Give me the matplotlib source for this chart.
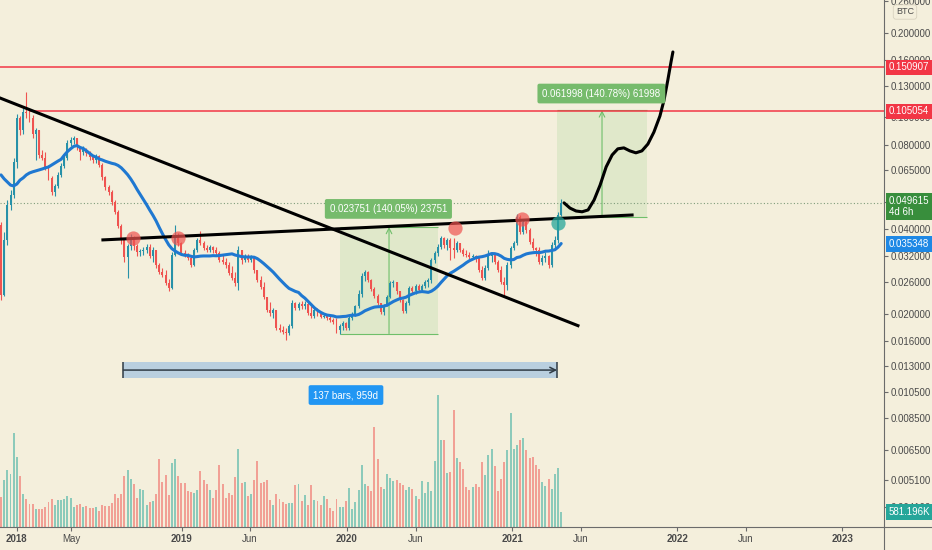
import numpy as np
import matplotlib
matplotlib.use("Agg")
import matplotlib.pyplot as plt
from matplotlib import font_manager
from matplotlib.lines import Line2D
from matplotlib.patches import Rectangle
from matplotlib.ticker import FixedLocator, NullLocator, FuncFormatter
from matplotlib.transforms import blended_transform_factory

# narrow font like the TradingView axis, if available
names = {f.name for f in font_manager.fontManager.ttflist}
if "Liberation Sans Narrow" in names:
    plt.rcParams["font.family"] = ["Liberation Sans Narrow", "DejaVu Sans"]
else:
    plt.rcParams["font.family"] = ["Liberation Sans", "DejaVu Sans"]

# ---- data (weekly candles, prices in mBTC, volume in K) ----
week0 = np.datetime64("2017-11-27")
open_first = 41.4

close_mbtc = [
    23.3, 36.6, 48.7, 52.9, 69.4, 99.6, 90.2, 104.6, 103.7, 99.6,
    87.3, 90.2, 73.5, 71.7, 66.1, 60.9, 54.2, 57.0, 62.4, 67.2,
    71.7, 81.1, 83.1, 84.5, 78.5, 75.4, 77.3, 74.8, 72.3, 70.5,
    72.9, 67.7, 61.4, 56.5, 54.2, 50.0, 46.1, 41.1, 36.6, 31.8,
    34.8, 37.2, 34.8, 33.2, 33.4, 33.7, 34.5, 32.0, 33.7, 29.8,
    28.1, 27.4, 25.7, 24.7, 32.3, 37.2, 35.7, 32.9, 32.3, 31.5,
    29.8, 33.7, 36.6, 35.7, 34.3, 33.7, 34.5, 33.7, 32.9, 31.0,
    30.5, 29.8, 27.9, 26.8, 25.7, 33.7, 31.0, 32.0, 31.0, 31.8,
    28.6, 26.3, 24.9, 22.9, 20.6, 20.1, 20.6, 17.8, 17.5, 17.2,
    17.1, 18.1, 21.8, 20.9, 21.7, 21.3, 21.7, 20.1, 19.6, 20.6,
    19.9, 19.5, 19.6, 19.3, 19.0, 18.7, 17.5, 18.1, 18.5, 17.8,
    19.3, 19.9, 21.2, 23.5, 27.2, 28.1, 26.3, 24.5, 23.1, 21.8,
    20.3, 21.3, 22.9, 25.7, 25.9, 24.0, 22.4, 20.4, 21.8, 24.7,
    24.0, 25.1, 24.3, 25.1, 25.9, 26.3, 31.0, 32.9, 34.5, 37.2,
    35.1, 36.6, 34.3, 33.7, 35.7, 33.7, 32.6, 32.3, 31.8, 32.0,
    31.8, 28.6, 26.8, 29.1, 32.0, 32.6, 30.5, 28.6, 25.9, 25.3,
    29.8, 34.3, 35.7, 44.2, 39.1, 42.4, 39.7, 36.0, 34.3, 33.7,
    30.5, 31.5, 32.0, 29.8, 35.1, 36.6, 44.9, 49.615,
]
high_mbtc = [
    42.4, 39.1, 50.8, 55.1, 71.7, 102.9, 101.2, 108.1, 123.3, 106.3,
    102.0, 91.7, 90.2, 76.6, 75.4, 67.7, 61.9, 57.9, 64.0, 68.8,
    73.5, 83.1, 85.2, 85.9, 84.5, 79.2, 79.2, 77.9, 76.0, 73.5,
    74.2, 73.5, 68.8, 61.9, 57.4, 55.1, 50.8, 46.8, 41.7, 37.2,
    35.4, 38.4, 37.8, 35.4, 34.0, 34.5, 35.4, 35.4, 34.5, 33.7,
    30.3, 29.1, 28.6, 26.5, 33.2, 41.4, 38.7, 36.0, 33.7, 32.9,
    32.3, 34.3, 37.2, 39.4, 36.3, 35.1, 35.1, 34.8, 34.5, 33.4,
    32.3, 31.5, 30.5, 29.6, 28.1, 34.8, 33.7, 32.6, 32.6, 32.3,
    32.0, 28.6, 27.2, 25.9, 22.9, 22.0, 20.9, 20.6, 18.3, 18.1,
    17.8, 18.4, 22.4, 22.0, 22.0, 22.2, 22.2, 22.0, 21.3, 20.9,
    20.9, 20.3, 19.9, 19.9, 19.8, 19.3, 19.3, 18.4, 18.8, 18.7,
    19.6, 20.3, 21.5, 24.3, 27.9, 28.6, 28.4, 26.5, 24.9, 23.5,
    21.8, 21.7, 23.3, 26.1, 26.3, 25.9, 24.1, 22.6, 22.2, 25.1,
    25.1, 25.5, 25.5, 25.5, 26.3, 26.7, 31.5, 33.4, 35.4, 37.8,
    37.5, 37.2, 37.2, 37.2, 36.3, 35.7, 34.3, 33.7, 33.2, 32.6,
    32.3, 32.0, 29.6, 29.8, 33.7, 33.2, 32.9, 31.0, 29.6, 27.0,
    30.5, 34.8, 36.3, 45.3, 44.9, 43.1, 42.8, 40.4, 37.2, 34.5,
    34.5, 32.3, 33.2, 32.3, 36.0, 37.8, 46.1, 51.2,
]
low_mbtc = [
    22.4, 23.1, 35.1, 46.8, 51.6, 66.1, 86.6, 87.3, 99.6, 96.3,
    84.5, 70.5, 71.7, 70.5, 65.0, 59.8, 52.9, 52.5, 56.0, 61.4,
    66.1, 70.5, 79.2, 80.4, 76.6, 70.5, 73.5, 72.9, 70.5, 68.8,
    68.8, 66.6, 59.8, 55.1, 52.9, 48.7, 45.3, 40.4, 35.4, 30.5,
    26.7, 33.7, 33.7, 32.0, 32.0, 32.3, 32.9, 31.5, 30.5, 29.1,
    27.7, 27.0, 25.3, 24.1, 24.5, 32.0, 34.8, 32.3, 31.8, 31.0,
    29.3, 29.6, 33.2, 35.1, 33.7, 33.2, 33.2, 32.9, 32.3, 30.5,
    30.0, 29.1, 27.4, 26.3, 25.1, 24.3, 30.0, 30.5, 30.5, 30.5,
    27.9, 25.9, 24.5, 22.6, 20.3, 19.6, 19.3, 17.5, 17.2, 16.9,
    16.1, 16.8, 17.8, 20.6, 20.6, 20.8, 20.8, 19.8, 19.2, 19.3,
    19.6, 19.2, 19.2, 19.0, 18.7, 18.4, 17.1, 16.9, 17.5, 17.4,
    17.5, 19.0, 19.6, 20.9, 22.9, 26.1, 25.9, 24.1, 22.7, 21.5,
    19.9, 19.8, 21.2, 22.7, 24.9, 23.5, 22.0, 20.1, 20.1, 21.5,
    23.5, 23.5, 24.0, 24.0, 24.7, 24.9, 25.7, 30.3, 32.0, 34.0,
    34.3, 33.7, 31.0, 31.5, 33.2, 33.2, 32.0, 31.8, 31.3, 31.3,
    30.5, 28.1, 26.3, 26.3, 28.6, 30.5, 30.0, 28.1, 25.5, 22.9,
    24.3, 29.1, 33.7, 35.1, 38.4, 38.4, 38.7, 35.4, 33.7, 32.0,
    30.0, 29.8, 30.5, 29.1, 29.3, 34.3, 35.7, 44.5,
]
volume_k = [
    1162, 1808, 2221, 2066, 3642, 2712, 1963, 1266, 1098, 878,
    904, 710, 710, 684, 775, 969, 1072, 839, 1033, 1059,
    1098, 1188, 1137, 775, 839, 878, 775, 827, 736, 736,
    775, 620, 839, 827, 801, 943, 1292, 1137, 1292, 1963,
    2221, 1847, 1653, 1137, 1485, 1421, 839, 969, 994, 1266,
    2635, 1744, 2002, 1227, 2480, 2635, 1963, 1705, 1705, 1395,
    1369, 1317, 1421, 2170, 1808, 1679, 1421, 1137, 1446, 2415,
    1679, 1111, 1330, 1227, 1937, 3035, 1705, 1744, 1188, 1292,
    1834, 2544, 1718, 1744, 1834, 1033, 839, 1266, 1072, 969,
    878, 943, 930, 1614, 1679, 1007, 1227, 865, 1614, 1033,
    994, 839, 1188, 1072, 749, 620, 1098, 775, 775, 1007,
    1511, 697, 969, 1446, 2415, 1679, 1576, 1395, 3875, 2635,
    1550, 1485, 2066, 1911, 1782, 1808, 1705, 1614, 1421, 1550,
    1485, 1188, 1072, 1769, 1330, 1744, 1395, 2544, 5101, 3384,
    3358, 2092, 2118, 4520, 2686, 2518, 2260, 1550, 1421, 1550,
    1653, 1550, 2518, 2002, 2777, 3009, 2351, 1395, 1847, 2518,
    2996, 4417, 3035, 3164, 3384, 3448, 2996, 2686, 2712, 2389,
    2260, 1744, 1576, 1847, 1485, 2041, 2286, 581.196,
]
ma_head_mbtc = [62.4, 60.4, 58.9, 57.4, 57.0, 57.9, 59.8, 60.9, 62.4, 63.4,
                64.0, 64.5, 65.0, 65.5, 66.1, 66.6, 67.7, 68.8, 69.9]
ma_len = 20

# drawings (week index, mBTC)
desc_line = ([-0.3, 182.3], [117.3, 18.1])
neck_line = ([32.2, 199.4], [36.6, 44.9])
proj_weeks = [177.9, 179.8, 181.7, 183.6, 185.5, 187.4, 189.3, 191.2, 193.1, 194.9,
              196.8, 198.7, 200.6, 202.5, 204.4, 206.3, 208.2, 209.5, 210.7, 211.7, 212.3]
proj_mbtc = [49.6, 47.5, 46.4, 46.1, 46.8, 50.8, 57.4, 66.6, 73.5, 77.3,
             77.9, 76.0, 74.8, 76.0, 80.4, 88.7, 101.2, 115.4, 136.0, 157.7, 171.2]
red_weeks = [41.7, 55.9, 143.4, 164.6]
red_mbtc = [37.2, 37.2, 40.4, 43.5]
teal_week, teal_mbtc = 176.0, 41.9
level_hi, level_lo = 0.150907, 0.105054
last_price, ma_last, last_vol = 0.049615, 0.035348, 581.196
range1 = dict(w0=107.1, w1=138.1, lo=0.016959, hi=0.040710, arrow=122.6,
              label="0.023751 (140.05%) 23751", lx=122.4, ly=0.0472)
range2 = dict(w0=175.7, w1=204.1, lo=0.044039, hi=0.106037, arrow=189.9,
              label="0.061998 (140.78%) 61998", lx=189.7, ly=0.1217)
bars_span = (38.7, 175.7)

tick_dates = ["2018-01-01", "2018-05-01", "2019-01-01", "2019-06-01", "2020-01-01",
              "2020-06-01", "2021-01-01", "2021-06-01", "2022-01-01", "2022-06-01", "2023-01-01"]
tick_labels = ["2018", "May", "2019", "Jun", "2020", "Jun", "2021", "Jun", "2022", "Jun", "2023"]
price_ticks = [0.26, 0.2, 0.16, 0.13, 0.1, 0.08, 0.065, 0.05, 0.04, 0.032, 0.026,
               0.02, 0.016, 0.013, 0.0105, 0.0085, 0.0065, 0.0051, 0.0041]

# ---- colours ----
BG = "#f4efdc"
UP = "#2791a8"
DOWN = "#ef5350"
AXIS = "#6b6b6b"
TXT = "#4a4a4a"
RED = "#f23645"

close = np.array(close_mbtc) / 1000
high = np.array(high_mbtc) / 1000
low = np.array(low_mbtc) / 1000
opn = np.concatenate([[open_first / 1000], close[:-1]])
weeks = np.arange(len(close))
up = close >= opn

ma = np.empty(len(close))
ma[:ma_len - 1] = np.array(ma_head_mbtc) / 1000
for i in range(ma_len - 1, len(close)):
    ma[i] = close[i - ma_len + 1:i + 1].mean()

fig = plt.figure(figsize=(9.32, 5.5), dpi=100)
fig.patch.set_facecolor(BG)
rect = [0, 23 / 550, 884 / 932, 527 / 550]

# volume pane underneath
ax_v = fig.add_axes(rect)
ax_v.set_facecolor(BG)
ax_v.bar(weeks, volume_k, width=0.62, color=np.where(up, "#26a69a", "#ef5350"),
         alpha=0.5, linewidth=0)
ax_v.set_ylim(0, max(volume_k) * 4)
ax_v.axis("off")

ax = fig.add_axes(rect, sharex=ax_v)
ax.patch.set_alpha(0)
ax.set_yscale("log")
ax.set_xlim(-0.32, 279.0)
ax.set_ylim(0.003466, 0.2623)

# price range boxes
for r in (range1, range2):
    ax.add_patch(Rectangle((r["w0"], r["lo"]), r["w1"] - r["w0"], r["hi"] - r["lo"],
                           facecolor="#7cc470", alpha=0.16, lw=0, zorder=1))
    ax.hlines([r["lo"], r["hi"]], r["w0"], r["w1"], color="#6fbf6a", lw=0.8, zorder=1.5)
    ax.annotate("", xy=(r["arrow"], r["hi"]), xytext=(r["arrow"], r["lo"]),
                arrowprops=dict(arrowstyle="->", color="#6fbf6a", lw=0.8,
                                shrinkA=0, shrinkB=0), zorder=1.5)
    ax.text(r["lx"], r["ly"], r["label"], ha="center", va="center", color="white",
            fontsize=7, zorder=8,
            bbox=dict(boxstyle="round,pad=0.5,rounding_size=0.2", fc="#76bb6c", ec="none"))

# levels
ax.axhline(level_hi, color=RED, lw=1.1, zorder=2)
ax.hlines(level_lo, 9.0, 279.0, color=RED, lw=1.1, zorder=2)
ax.axhline(last_price, color="#7f9c7b", lw=0.8, ls=(0, (1, 2)), zorder=1)

# candles
col = np.where(up, UP, DOWN)
body_lo = np.minimum(opn, close)
body_hi = np.maximum(np.maximum(opn, close), body_lo * 1.006)
ax.vlines(weeks, low, high, colors=col, lw=0.8, zorder=3)
ax.bar(weeks, body_hi - body_lo, bottom=body_lo, width=0.62, color=col, lw=0, zorder=3)

ax.plot(weeks, ma, color="#1f78d1", lw=2.2, zorder=4, solid_capstyle="round")

# trend lines and projection
ax.plot(desc_line[0], np.array(desc_line[1]) / 1000, color="black", lw=2.2, zorder=5)
ax.plot(neck_line[0], np.array(neck_line[1]) / 1000, color="black", lw=2.2, zorder=5)
ax.plot(proj_weeks, np.array(proj_mbtc) / 1000, color="black", lw=2.2, zorder=5,
        solid_joinstyle="round", solid_capstyle="round")

ax.scatter(red_weeks, np.array(red_mbtc) / 1000, s=105, color="#ef5350", alpha=0.7,
           linewidths=0, zorder=6)
ax.scatter([teal_week], [teal_mbtc / 1000], s=105, color="#26a69a", alpha=0.75,
           linewidths=0, zorder=6)

# bars/date range
y_lo, y_hi, y_mid = 0.01178, 0.01342, 0.01257
ax.add_patch(Rectangle((bars_span[0], y_lo), bars_span[1] - bars_span[0], y_hi - y_lo,
                       facecolor="#b9cfdf", edgecolor="none", zorder=2))
ax.annotate("", xy=(bars_span[1], y_mid), xytext=(bars_span[0], y_mid),
            arrowprops=dict(arrowstyle="->", color="#2f3b45", lw=1.1, shrinkA=0, shrinkB=0),
            zorder=3)
ax.vlines(bars_span, y_lo, y_hi, color="#2f3b45", lw=1.1, zorder=3)
ax.text(109.0, 0.01024, "137 bars, 959d", ha="center", va="center", color="white",
        fontsize=7, zorder=8,
        bbox=dict(boxstyle="round,pad=0.5,rounding_size=0.2", fc="#2196f3", ec="none"))

# axes styling
for s in ("top", "left"):
    ax.spines[s].set_visible(False)
for s in ("right", "bottom"):
    ax.spines[s].set_color(AXIS)
    ax.spines[s].set_linewidth(0.8)
ax.yaxis.tick_right()
ax.yaxis.set_major_locator(FixedLocator(price_ticks))
ax.yaxis.set_minor_locator(NullLocator())
ax.yaxis.set_major_formatter(FuncFormatter(lambda v, p: f"{v:.6f}"))
ax.tick_params(axis="y", which="major", length=3, width=0.8, color=AXIS,
               labelsize=7, labelcolor=TXT, pad=2)

tick_pos = [(np.datetime64(d) - week0) / np.timedelta64(7, "D") for d in tick_dates]
ax.set_xticks(tick_pos)
ax.set_xticklabels(tick_labels)
ax.tick_params(axis="x", length=3, width=0.8, color=AXIS, labelsize=7,
               labelcolor=TXT, pad=2)
for lab in ax.get_xticklabels():
    if lab.get_text().isdigit():
        lab.set_fontweight("bold")

# axis lines running to the figure edges
fig.add_artist(Line2D([884 / 932, 884 / 932], [0, 23 / 550], transform=fig.transFigure,
                      color=AXIS, lw=0.8))
fig.add_artist(Line2D([884 / 932, 1], [23 / 550, 23 / 550], transform=fig.transFigure,
                      color=AXIS, lw=0.8))

# price tags on the right axis
tr = blended_transform_factory(ax.transAxes, ax.transData)
tr_v = blended_transform_factory(ax.transAxes, ax_v.transData)


def tag(y, text, color, trans=tr, dy=0, va="center"):
    ax.annotate(text, xy=(1, y), xycoords=trans, xytext=(3.5, dy),
                textcoords="offset points", ha="left", va=va, fontsize=7,
                color="white", linespacing=1.15, annotation_clip=False, zorder=10,
                bbox=dict(boxstyle="square,pad=0.28", fc=color, ec="none"))


tag(level_hi, "0.150907", RED)
tag(level_lo, "0.105054", RED)
tag(last_price, "0.049615\n4d 6h", "#388e3c", dy=5.2, va="top")
tag(ma_last, "0.035348", "#1e88e5")
tag(last_vol, "581.196K", "#26a69a", trans=tr_v)

fig.text(905 / 932, 1 - 12 / 550, "BTC", ha="center", va="center", fontsize=6.5,
         color=TXT, bbox=dict(boxstyle="round,pad=0.3", fc=BG, ec="#d8d2bf", lw=0.6))

plt.savefig("out.png", dpi=100, facecolor=BG)
